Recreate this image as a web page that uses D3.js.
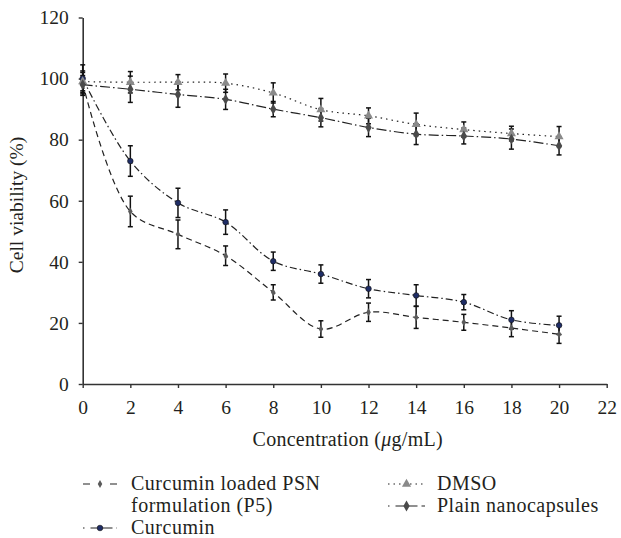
<!DOCTYPE html>
<html>
<head>
<meta charset="utf-8">
<script src="https://cdn.jsdelivr.net/npm/d3@7"></script>
<style>
  body { margin: 0; background: #fff; }
  svg text { font-family: "Liberation Serif", "DejaVu Serif", serif; fill: #231f20; }
</style>
</head>
<body>
<svg id="chart" width="621" height="538"></svg>
<script>
// ---- data ----
const concentrations = [0, 2, 4, 6, 8, 10, 12, 14, 16, 18, 20];
const p5Values       = [98.5, 56.5, 49, 42, 30, 18, 23.5, 21.8, 20.2, 18.3, 16.3];
const p5Errors       = [4, 5, 4.7, 3.2, 2.5, 2.7, 3, 3.6, 2.6, 2.8, 3];
const curcuminValues = [100, 73, 59.3, 53, 40.2, 36, 31.2, 29, 26.8, 21, 19.2];
const curcuminErrors = [4.5, 5, 4.8, 4, 3, 3, 3, 3.5, 2.5, 3, 3];
const dmsoValues     = [99, 98.8, 98.8, 98.5, 95.3, 89.8, 87.8, 85, 83.3, 82, 81];
const dmsoErrors     = [3, 3.5, 2.5, 3, 3.3, 3.7, 2.6, 3.7, 2.5, 2.4, 3.3];
const plainValues    = [98, 96.5, 94.8, 93.2, 90, 87.2, 84, 81.8, 81.2, 80.2, 78];
const plainErrors    = [3, 4.3, 4.2, 3.3, 2.5, 3, 3, 3.4, 2.6, 3.3, 3];

const xTicks = [0, 2, 4, 6, 8, 10, 12, 14, 16, 18, 20, 22];
const yTicks = [0, 20, 40, 60, 80, 100, 120];

const series = [
  { name: ["Curcumin loaded PSN", "formulation (P5)"], values: p5Values, errors: p5Errors,
    dash: "6,4", legendDash: "7,20,7", marker: "diamondSmall", fill: "#5a5a5a", legend: [0, 0] },
  { name: ["Curcumin"], values: curcuminValues, errors: curcuminErrors,
    dash: "7,3,1.5,3", legendDash: "1.5,6,22,4,6", marker: "circle", fill: "#1f2d66", legend: [0, 2] },
  { name: ["DMSO"], values: dmsoValues, errors: dmsoErrors,
    dash: "1.5,4", legendDash: "1.5,4", marker: "triangle", fill: "#8a8a8a", legend: [1, 0] },
  { name: ["Plain nanocapsules"], values: plainValues, errors: plainErrors,
    dash: "10,3,1.5,3", legendDash: "1.5,6,22,4,6", marker: "diamond", fill: "#4a4a4a", legend: [1, 1] }
];

const svg = d3.select("#chart");

const x = d3.scaleLinear().domain([0, 22]).range([82.7, 606.7]);
const y = d3.scaleLinear().domain([0, 120]).range([384, 17.5]);

// ---- axes ----
const xAxis = svg.append("g")
  .attr("transform", `translate(0, ${y(0)})`)
  .call(d3.axisBottom(x).tickValues(xTicks).tickSize(4).tickSizeOuter(0).tickPadding(12));

const yAxis = svg.append("g")
  .attr("transform", `translate(${x(0)}, 0)`)
  .call(d3.axisLeft(y).tickValues(yTicks).tickSize(4).tickSizeOuter(0).tickPadding(10));

[xAxis, yAxis].forEach(ax => {
  ax.select(".domain").attr("stroke", "#333").attr("stroke-width", 1.6);
  ax.selectAll(".tick line").attr("stroke", "#333").attr("stroke-width", 1.4);
  ax.selectAll(".tick text")
    .style("font-size", "19.5px")
    .style("font-family", "'Liberation Serif', serif")
    .attr("fill", "#231f20");
});

svg.append("text")
  .attr("x", (x(0) + x(22)) / 2 + 3)
  .attr("y", 446)
  .attr("text-anchor", "middle")
  .style("font-size", "20px")
  .style("letter-spacing", "0.25px")
  .html("Concentration (<tspan font-style='italic'>μ</tspan>g/mL)");

svg.append("text")
  .attr("transform", `translate(23, 205) rotate(-90)`)
  .attr("text-anchor", "middle")
  .style("font-size", "19.5px")
  .text("Cell viability (%)");

// ---- markers ----
const drawMarker = (g, type, fill) => {
  if (type === "circle") {
    g.append("circle").attr("r", 2.8).attr("fill", fill).attr("stroke", "#111").attr("stroke-width", 0.6);
  } else if (type === "triangle") {
    g.append("path").attr("d", d3.symbol(d3.symbolTriangle, 36)()).attr("fill", fill);
  } else if (type === "diamond") {
    g.append("path").attr("d", d3.symbol(d3.symbolDiamond, 34)()).attr("fill", fill);
  } else {
    g.append("path").attr("d", d3.symbol(d3.symbolDiamond, 18)()).attr("fill", fill);
  }
};

const line = d3.line()
  .x((d, i) => x(concentrations[i]))
  .y(d => y(d))
  .curve(d3.curveCatmullRom.alpha(0.5));

const plot = svg.append("g");

series.forEach(s => {
  plot.append("path")
    .datum(s.values)
    .attr("d", line)
    .attr("fill", "none")
    .attr("stroke", "#222")
    .attr("stroke-width", 1.2)
    .attr("stroke-dasharray", s.dash);
});

series.forEach(s => {
  const g = plot.append("g");
  const bars = g.selectAll(".err")
    .data(s.values.map((v, i) => ({ c: concentrations[i], v, e: s.errors[i] })))
    .join("g")
      .attr("class", "err")
      .attr("stroke", "#111")
      .attr("stroke-width", 1.5);
  bars.append("line")
    .attr("x1", d => x(d.c)).attr("x2", d => x(d.c))
    .attr("y1", d => y(d.v - d.e)).attr("y2", d => y(d.v + d.e));
  bars.append("line")
    .attr("x1", d => x(d.c) - 2.5).attr("x2", d => x(d.c) + 2.5)
    .attr("y1", d => y(d.v + d.e)).attr("y2", d => y(d.v + d.e));
  bars.append("line")
    .attr("x1", d => x(d.c) - 2.5).attr("x2", d => x(d.c) + 2.5)
    .attr("y1", d => y(d.v - d.e)).attr("y2", d => y(d.v - d.e));
});

series.forEach(s => {
  s.values.forEach((v, i) => {
    const m = plot.append("g").attr("transform", `translate(${x(concentrations[i])}, ${y(v)})`);
    drawMarker(m, s.marker, s.fill);
  });
});

// ---- legend ----
const legendCols = [{ x0: 83, x1: 117, tx: 131 }, { x0: 388, x1: 425, tx: 437 }];
const legendRowY = [490, 512, 534];

series.forEach(s => {
  const col = legendCols[s.legend[0]];
  const base = legendRowY[s.legend[1]];
  const cy = base - 6;
  svg.append("line")
    .attr("x1", col.x0).attr("x2", col.x1)
    .attr("y1", cy).attr("y2", cy)
    .attr("stroke", "#222").attr("stroke-width", 1.2)
    .attr("stroke-dasharray", s.legendDash);
  const m = svg.append("g").attr("transform", `translate(${(col.x0 + col.x1) / 2}, ${cy})`);
  drawMarker(m, s.marker, s.fill);
  s.name.forEach((t, k) => {
    svg.append("text")
      .attr("x", col.tx)
      .attr("y", base + k * 22)
      .style("font-size", "20px")
      .style("letter-spacing", "0.5px")
      .text(t);
  });
});
</script>
</body>
</html>
